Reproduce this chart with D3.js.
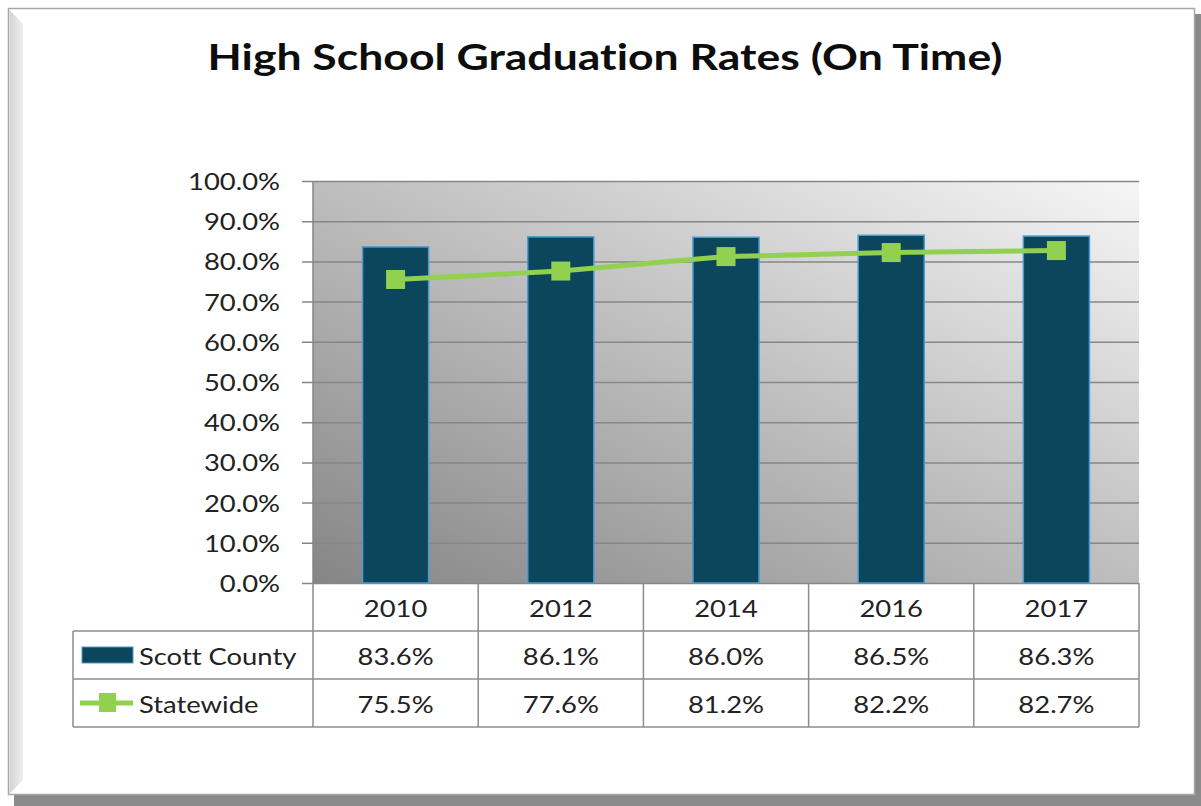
<!DOCTYPE html>
<html>
<head>
<meta charset="utf-8">
<script src="https://cdn.jsdelivr.net/npm/d3@7"></script>
<style>
  html, body { margin: 0; padding: 0; background: #ffffff; }
  svg { display: block; }
  text { font-family: Lato, "Open Sans", sans-serif; font-variant-ligatures: none; font-feature-settings: "liga" 0, "clig" 0; }
</style>
</head>
<body>
<svg id="chart" width="1201" height="806"></svg>
<script>
// ---- data ----
const title = "High School Graduation Rates (On Time)";
const categories = ["2010", "2012", "2014", "2016", "2017"];
const seriesNames = ["Scott County", "Statewide"];
const scottCounty = [83.6, 86.1, 86.0, 86.5, 86.3];
const statewide = [75.5, 77.6, 81.2, 82.2, 82.7];
const yTicks = [0, 10, 20, 30, 40, 50, 60, 70, 80, 90, 100];

// ---- layout ----
const W = 1201, H = 806;
const plot = { left: 313, right: 1139, top: 181, bottom: 583 };
const rowH = 48;
const tableLeft = 73;
const barColor = "#0c465c", barEdge = "#4a9bd0";
const lineColor = "#92d050";
const gridColor = "#868686";
const textColor = "#222222";

const svg = d3.select("#chart");
const defs = svg.append("defs");

const plotGrad = defs.append("linearGradient").attr("id", "plotGrad")
  .attr("x1", 0).attr("y1", 1).attr("x2", 1).attr("y2", 0);
plotGrad.append("stop").attr("offset", "0%").attr("stop-color", "#858585");
plotGrad.append("stop").attr("offset", "100%").attr("stop-color", "#f6f6f6");

const bevelGrad = defs.append("linearGradient").attr("id", "bevelGrad")
  .attr("x1", 0).attr("y1", 0).attr("x2", 1).attr("y2", 0);
bevelGrad.append("stop").attr("offset", "0%").attr("stop-color", "#d4d4d4");
bevelGrad.append("stop").attr("offset", "100%").attr("stop-color", "#efefef");

// frame: shadow, panel, left bevel
svg.append("rect").attr("x", 14).attr("y", 14).attr("width", W - 14).attr("height", H - 14).attr("fill", "#8a8a8a");
svg.append("rect").attr("x", 8.5).attr("y", 8.5).attr("width", 1186).attr("height", 786)
  .attr("fill", "#ffffff").attr("stroke", "#a8a8a8").attr("stroke-width", 1.5);
svg.append("path")
  .attr("d", "M9.5,10 L23,24 L23,780 L9.5,794 Z")
  .attr("fill", "url(#bevelGrad)");

// scales
const x = d3.scaleBand().domain(categories).range([plot.left, plot.right]).paddingInner(0).paddingOuter(0);
const y = d3.scaleLinear().domain([0, 100]).range([plot.bottom, plot.top]);

// text stretch helper: reference glyphs are wider than the available font
function measure(str, size, weight) {
  const t = svg.append("text").attr("font-size", size).attr("font-weight", weight).text(str);
  const w = t.node().getComputedTextLength();
  t.remove();
  return w;
}
const fs = 22.5;
const sx = 92 / measure("100.0%", fs, "normal");
const titleSize = 36;
const sxTitle = 795 / measure(title, titleSize, "bold");

function stretchedText(g, str, px, py, anchor, size, weight, scale, fill) {
  return g.append("text")
    .attr("transform", `translate(${px},${py}) scale(${scale},1)`)
    .attr("text-anchor", anchor)
    .attr("font-size", size)
    .attr("font-weight", weight)
    .attr("fill", fill)
    .text(str);
}

// title
stretchedText(svg, title, 605, 70, "middle", titleSize, "bold", sxTitle, "#0d0d0d");

// plot background
svg.append("rect").attr("x", plot.left).attr("y", plot.top)
  .attr("width", plot.right - plot.left).attr("height", plot.bottom - plot.top)
  .attr("fill", "url(#plotGrad)");

// y axis with gridlines
const yAxis = d3.axisLeft(y).tickValues(yTicks)
  .tickSize(-(plot.right - plot.left))
  .tickFormat(d => d3.format(".1f")(d) + "%");
const yg = svg.append("g").attr("transform", `translate(${plot.left},0)`).call(yAxis);
yg.select(".domain").attr("stroke", gridColor).attr("stroke-width", 1.5)
  .attr("d", `M0,${plot.top}V${plot.bottom}`);
yg.selectAll(".tick line").attr("stroke", gridColor).attr("stroke-width", 1.5).attr("x1", -11);
yg.selectAll(".tick text").each(function(d) {
  const s = d3.select(this).text();
  d3.select(this).remove();
  stretchedText(yg, s, -33, y(d) + 9, "end", fs, "normal", sx, textColor);
});

// bars
svg.append("g").selectAll("rect").data(scottCounty).join("rect")
  .attr("x", (d, i) => x(categories[i]) + x.bandwidth() * 0.3)
  .attr("width", x.bandwidth() * 0.4)
  .attr("y", d => y(d))
  .attr("height", d => y(0) - y(d))
  .attr("fill", barColor)
  .attr("stroke", barEdge)
  .attr("stroke-width", 1.5);

// line + markers
const line = d3.line().x((d, i) => x(categories[i]) + x.bandwidth() / 2).y(d => y(d));
svg.append("path").datum(statewide).attr("d", line)
  .attr("fill", "none").attr("stroke", lineColor).attr("stroke-width", 5);
svg.append("g").selectAll("rect").data(statewide).join("rect")
  .attr("x", (d, i) => x(categories[i]) + x.bandwidth() / 2 - 9.5)
  .attr("y", d => y(d) - 9.5)
  .attr("width", 19).attr("height", 19)
  .attr("fill", lineColor);

// data table
const tbl = svg.append("g");
const tableColor = "#8c8c8c";
const rows = [plot.bottom, plot.bottom + rowH, plot.bottom + 2 * rowH, plot.bottom + 3 * rowH];
// horizontal lines
tbl.append("line").attr("x1", tableLeft).attr("x2", plot.right).attr("y1", rows[1]).attr("y2", rows[1]);
tbl.append("line").attr("x1", tableLeft).attr("x2", plot.right).attr("y1", rows[2]).attr("y2", rows[2]);
tbl.append("line").attr("x1", tableLeft).attr("x2", plot.right).attr("y1", rows[3]).attr("y2", rows[3]);
// vertical lines
tbl.append("line").attr("x1", tableLeft).attr("x2", tableLeft).attr("y1", rows[1]).attr("y2", rows[3]);
categories.forEach(c => {
  tbl.append("line").attr("x1", x(c)).attr("x2", x(c)).attr("y1", rows[0]).attr("y2", rows[3]);
});
tbl.append("line").attr("x1", plot.right).attr("x2", plot.right).attr("y1", rows[0]).attr("y2", rows[3]);
tbl.selectAll("line").attr("stroke", tableColor).attr("stroke-width", 1.5);

// header labels
categories.forEach(c => {
  stretchedText(tbl, c, x(c) + x.bandwidth() / 2, rows[0] + 34, "middle", fs, "normal", sx, textColor);
});
// values
const fmt = v => d3.format(".1f")(v) + "%";
scottCounty.forEach((v, i) => {
  stretchedText(tbl, fmt(v), x(categories[i]) + x.bandwidth() / 2, rows[1] + 34, "middle", fs, "normal", sx, textColor);
});
statewide.forEach((v, i) => {
  stretchedText(tbl, fmt(v), x(categories[i]) + x.bandwidth() / 2, rows[2] + 34, "middle", fs, "normal", sx, textColor);
});

// legend keys
tbl.append("rect").attr("x", 82).attr("y", rows[1] + 16).attr("width", 51).attr("height", 16)
  .attr("fill", barColor).attr("stroke", barEdge).attr("stroke-width", 1);
tbl.append("line").attr("x1", 80).attr("x2", 133).attr("y1", rows[2] + 24).attr("y2", rows[2] + 24)
  .attr("stroke", lineColor).attr("stroke-width", 5);
tbl.append("rect").attr("x", 99).attr("y", rows[2] + 14).attr("width", 17).attr("height", 19)
  .attr("fill", lineColor);
stretchedText(tbl, seriesNames[0], 139, rows[1] + 34, "start", fs, "normal", sx, textColor);
stretchedText(tbl, seriesNames[1], 139, rows[2] + 34, "start", fs, "normal", sx, textColor);
</script>
</body>
</html>
